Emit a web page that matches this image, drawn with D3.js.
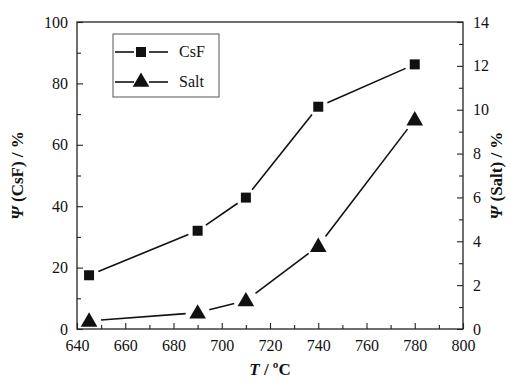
<!DOCTYPE html>
<html>
<head>
<meta charset="utf-8">
<script src="https://cdn.jsdelivr.net/npm/d3@7"></script>
<style>
  body { margin: 0; background: #fff; }
</style>
</head>
<body>
<div id="chart"></div>
<script>
const temps = [645, 690, 710, 740, 780];
const csfValues = [17.5, 32, 42.8, 72.4, 86.2];
const saltValues = [0.37, 0.74, 1.3, 3.78, 9.55];
const xTicks = [640, 660, 680, 700, 720, 740, 760, 780, 800];
const leftTicks = [0, 20, 40, 60, 80, 100];
const rightTicks = [0, 2, 4, 6, 8, 10, 12, 14];

const FONT = "'Liberation Serif', 'Times New Roman', 'DejaVu Serif', serif";
const W = 511, H = 383;
const margin = { top: 22, right: 48, bottom: 54, left: 77 };
const width = W - margin.left - margin.right;
const height = H - margin.top - margin.bottom;

const svg = d3.select("#chart").append("svg")
  .attr("width", W).attr("height", H)
  .attr("font-family", FONT);
const g = svg.append("g").attr("transform", `translate(${margin.left},${margin.top})`);

const x = d3.scaleLinear().domain([640, 800]).range([0, width]);
const yL = d3.scaleLinear().domain([0, 100]).range([height, 0]);
const yR = d3.scaleLinear().domain([0, 14]).range([height, 0]);

// frame
g.append("rect").attr("width", width).attr("height", height)
  .attr("fill", "none").attr("stroke", "#222").attr("stroke-width", 1.3);

// minor ticks (inward)
const minorX = d3.range(650, 800, 20);
const minorL = d3.range(10, 100, 20);
const minorR = d3.range(1, 14, 2);

const styleAxis = sel => {
  sel.attr("font-family", FONT).attr("font-size", 16);
  sel.select(".domain").remove();
  sel.selectAll("line").attr("stroke", "#222").attr("stroke-width", 1.1);
  sel.selectAll("text").style("font-family", FONT).style("font-size", "16px").attr("fill", "#111");
};

g.append("g").attr("transform", `translate(0,${height})`)
  .call(d3.axisBottom(x).tickValues(xTicks).tickSize(-6).tickPadding(11).tickFormat(d3.format("d")))
  .call(styleAxis);
g.append("g").attr("transform", `translate(0,${height})`)
  .call(d3.axisBottom(x).tickValues(minorX).tickSize(-4).tickFormat(""))
  .call(styleAxis);

g.append("g")
  .call(d3.axisLeft(yL).tickValues(leftTicks).tickSize(-6).tickPadding(9))
  .call(styleAxis);
g.append("g")
  .call(d3.axisLeft(yL).tickValues(minorL).tickSize(-4).tickFormat(""))
  .call(styleAxis);

g.append("g").attr("transform", `translate(${width},0)`)
  .call(d3.axisRight(yR).tickValues(rightTicks).tickSize(-6).tickPadding(10))
  .call(styleAxis);
g.append("g").attr("transform", `translate(${width},0)`)
  .call(d3.axisRight(yR).tickValues(minorR).tickSize(-4).tickFormat(""))
  .call(styleAxis);

// broken line segments between markers
function drawSeries(values, yScale, gap) {
  const pts = temps.map((t, i) => [x(t), yScale(values[i])]);
  for (let i = 0; i < pts.length - 1; i++) {
    const [x1, y1] = pts[i], [x2, y2] = pts[i + 1];
    const len = Math.hypot(x2 - x1, y2 - y1);
    const ux = (x2 - x1) / len, uy = (y2 - y1) / len;
    g.append("line")
      .attr("x1", x1 + ux * gap).attr("y1", y1 + uy * gap)
      .attr("x2", x2 - ux * gap).attr("y2", y2 - uy * gap)
      .attr("stroke", "#111").attr("stroke-width", 1.6);
  }
  return pts;
}

const sq = d3.symbol().type(d3.symbolSquare).size(100);
const tri = d3.symbol().type(d3.symbolTriangle).size(120);

drawSeries(csfValues, yL, 10).forEach(([px, py]) => {
  g.append("path").attr("d", sq).attr("transform", `translate(${px},${py})`).attr("fill", "#111");
});
drawSeries(saltValues, yR, 12).forEach(([px, py]) => {
  g.append("path").attr("d", tri).attr("transform", `translate(${px},${py + 1})`).attr("fill", "#111");
});

// legend
const lg = svg.append("g");
lg.append("rect").attr("x", 113).attr("y", 34).attr("width", 106).attr("height", 63)
  .attr("fill", "#fff").attr("stroke", "#555").attr("stroke-width", 1);
const legendItems = [
  { label: "CsF", sym: sq, y: 52 },
  { label: "Salt", sym: tri, y: 82 }
];
legendItems.forEach(it => {
  lg.append("line").attr("x1", 115).attr("x2", 134).attr("y1", it.y).attr("y2", it.y)
    .attr("stroke", "#111").attr("stroke-width", 1.6);
  lg.append("line").attr("x1", 149).attr("x2", 168).attr("y1", it.y).attr("y2", it.y)
    .attr("stroke", "#111").attr("stroke-width", 1.6);
  lg.append("path").attr("d", it.sym).attr("transform", `translate(141,${it.y})`).attr("fill", "#111");
  lg.append("text").attr("x", 179).attr("y", it.y + 5)
    .style("font-family", FONT).style("font-size", "16px").attr("fill", "#111").text(it.label);
});

// axis titles
const title = (sel) => sel.attr("text-anchor", "middle").attr("fill", "#111")
  .style("font-family", FONT).style("font-size", "17px").style("font-weight", "bold");

svg.append("text")
  .attr("x", margin.left + width / 2).attr("y", 375)
  .call(title)
  .html('<tspan font-style="italic">T</tspan> / ºC');

svg.append("text")
  .attr("transform", `translate(23,${margin.top + height / 2}) rotate(-90)`)
  .call(title)
  .html('<tspan font-style="italic">Ψ</tspan> (CsF) / %');

svg.append("text")
  .attr("transform", `translate(502,${margin.top + height / 2}) rotate(-90)`)
  .call(title)
  .html('<tspan font-style="italic">Ψ</tspan> (Salt) / %');
</script>
</body>
</html>
